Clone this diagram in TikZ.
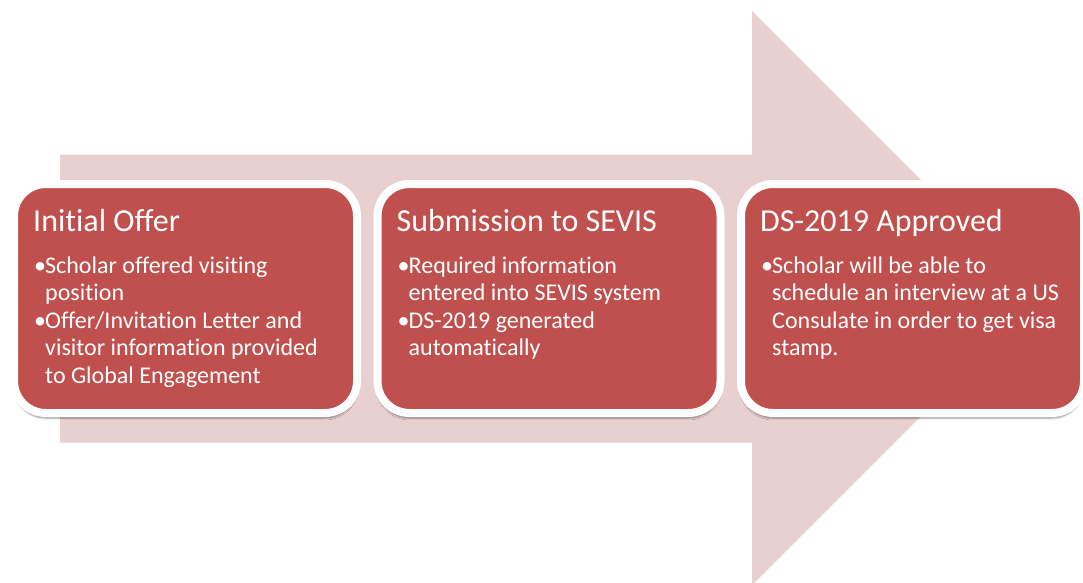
\documentclass[tikz,border=0pt]{standalone}
\usepackage{fontspec}
\setmainfont{Carlito}[Ligatures={NoCommon}]
\usetikzlibrary{calc,shadows.blur}
\definecolor{boxred}{RGB}{192,80,77}
\definecolor{arrowpink}{RGB}{232,208,209}

% one bullet entry; continuation lines hang under the first word
\newcommand{\bul}{\makebox[12pt][l]{\hspace*{1pt}•}}
\newcommand{\cont}{\hspace*{12pt}}

\begin{document}
\begin{tikzpicture}[x=1pt,y=-1pt,
  stepbox/.style={draw=white, line width=8pt, fill=boxred,
    rounded corners=32pt, minimum width=343pt, minimum height=229pt,
    inner sep=0pt,
    blur shadow={shadow xshift=0pt, shadow yshift=-5pt,
      shadow blur steps=6, shadow opacity=45}},
  steptitle/.style={anchor=base west, text=white, inner sep=0pt,
    font=\fontsize{32}{38}\selectfont},
  stepbody/.style={anchor=base west, text=white, inner sep=0pt,
    font=\fontsize{24}{27.5}\selectfont},
]
\useasboundingbox (0,0) rectangle (1083,582);
\clip (0,0) rectangle (1083,582);

% background block arrow
\fill[arrowpink] (60,154.5) -- (752,154.5) -- (752,11) -- (1039,298)
  -- (752,585) -- (752,442.5) -- (60,442.5) -- cycle;

% the three stages
\node[stepbox] (b1) at (185.5,298.5) {};
\node[stepbox] (b2) at (549,298.5) {};
\node[stepbox] (b3) at (912.5,298.5) {};

\node[steptitle] (t1) at ($(b1.north west)+(23,51)$) {Initial Offer};
\node[steptitle] (t2) at ($(b2.north west)+(23,51)$) {Submission to SEVIS};
\node[steptitle] (t3) at ($(b3.north west)+(23,51)$) {DS-2019 Approved};

\node[stepbody] (d1) at ($(b1.north west)+(23,93)$) {\parbox[t]{320pt}{\baselineskip=27.5pt
  \bul Scholar offered visiting\\
  \cont position\\
  \bul Offer/Invitation Letter and\\
  \cont visitor information provided\\
  \cont to Global Engagement}};
\node[stepbody] (d2) at ($(b2.north west)+(23,93)$) {\parbox[t]{320pt}{\baselineskip=27.5pt
  \bul Required information\\
  \cont entered into SEVIS system\\
  \bul DS-2019 generated\\
  \cont automatically}};
\node[stepbody] (d3) at ($(b3.north west)+(23,93)$) {\parbox[t]{320pt}{\baselineskip=27.5pt
  \bul Scholar will be able to\\
  \cont schedule an interview at a US\\
  \cont Consulate in order to get visa\\
  \cont stamp.}};
\end{tikzpicture}
\end{document}
